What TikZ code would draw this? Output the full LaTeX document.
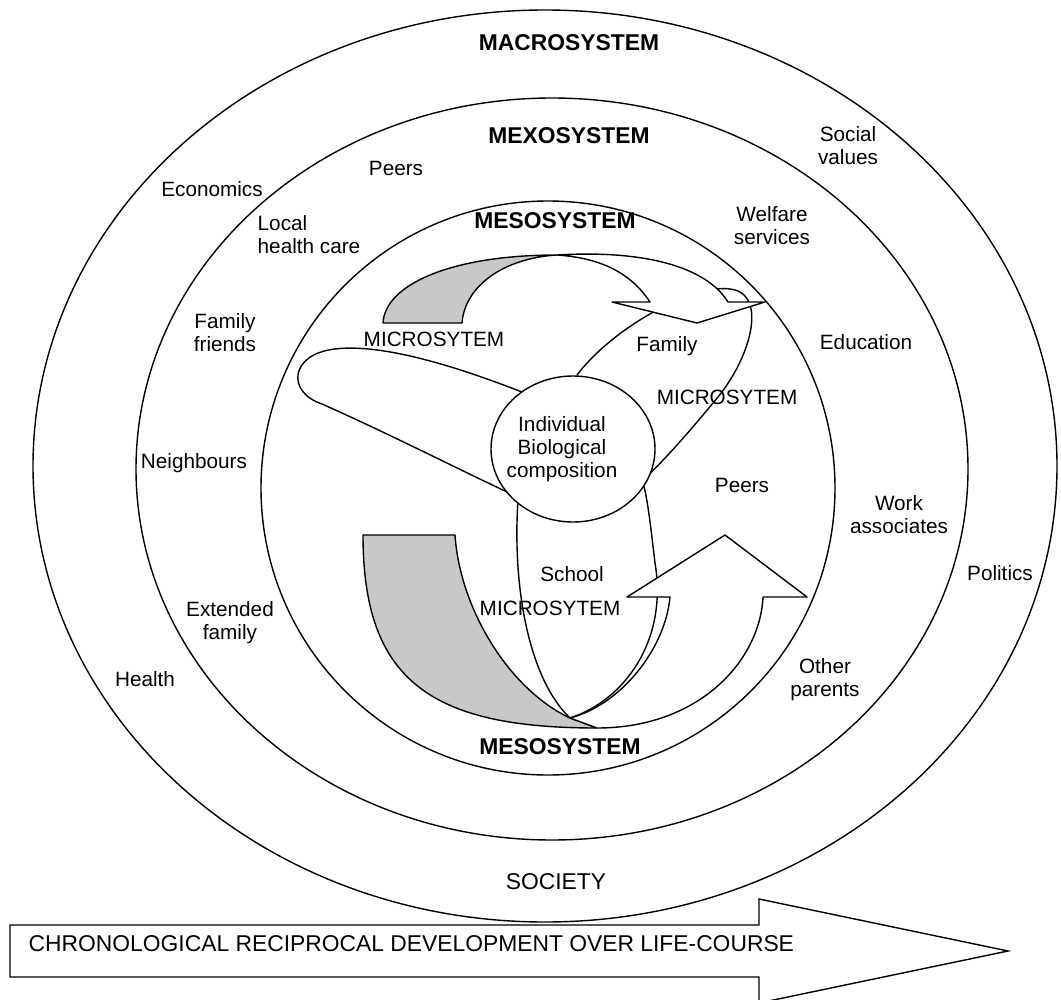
\documentclass[tikz,border=0pt]{standalone}
\usepackage{fontspec}
\setmainfont{Liberation Sans}
\usepackage{xcolor}
\usepackage{tikz}
\usetikzlibrary{calc, positioning}
\definecolor{ribbon}{RGB}{200,200,200}

\begin{document}
\begin{tikzpicture}
      [x=0.02cm, y=-0.02cm, line width=0.8pt,
       lbl/.style={font=\fontsize{11.8}{13.1}\selectfont, align=center, inner sep=0pt},
       sys/.style={font=\bfseries\fontsize{13}{15}\selectfont, inner sep=0pt},
       big/.style={font=\fontsize{13}{15}\selectfont, inner sep=0pt},
       band/.style={draw, fill=ribbon, line join=round},
       turn/.style={draw, fill=white, line join=round}]

      \clip (0,0) rectangle (1061,1000);

      % rings %
      \draw (545,466) ellipse [x radius=512, y radius=456];
      \draw (552,469) ellipse [x radius=416, y radius=371];
      \draw (548,488) ellipse [x radius=287, y radius=287];

      %petals
      \draw (522,392) .. controls (440,360) and (375,344) .. (335,349)
            .. controls (290,354) and (286,392) .. (322,404)
            .. controls (385,432) and (450,465) .. (507,492);
      \draw (577,375) .. controls (615,325) and (700,280) .. (735,290)
            .. controls (765,298) and (752,355) .. (718,397)
            .. controls (695,425) and (665,460) .. (643,480);
      \draw (518,500) .. controls (512,590) and (530,680) .. (570,718)
            .. controls (625,700) and (668,640) .. (655,563)
            .. controls (651,530) and (648,500) .. (643,483);

      %top ribbon
      \path[band] (383,323) .. controls (385,285) and (450,255) .. (557,255)
            .. controls (505,258) and (465,285) .. (462,323) -- cycle;
      \path[turn] (557,255) .. controls (640,250) and (705,265) .. (728,302)
            -- (765,302) -- (697,323) -- (612,302) -- (650,302)
            .. controls (630,272) and (600,258) .. (557,255) -- cycle;

      %bottom ribbon
      \path[band] (363,535) -- (455,535) .. controls (460,610) and (510,690) .. (570,718)
            -- (597,728) .. controls (430,728) and (363,680) .. (363,535) -- cycle;
      \path[turn] (570,718) .. controls (620,705) and (665,650) .. (670,597)
            -- (627,597) -- (725,535) -- (807,597) -- (763,597)
            .. controls (760,660) and (700,728) .. (597,728) -- cycle;

      %centre
      \draw[fill=white] (573,449) ellipse [x radius=82, y radius=73];

      %time arrow
      \draw[fill=white, line join=miter] (10,925) -- (759,925) -- (759,899) -- (1008,951)
            -- (759,1003) -- (759,977) -- (10,977) -- cycle;

      %nodes
      \node[sys] (macro) at (569,43) {MACROSYSTEM};
      \node[sys] (mexo) at (569,136) {MEXOSYSTEM};
      \node[sys] (mesotop) at (555,221) {MESOSYSTEM};
      \node[sys] (mesobot) at (560,747) {MESOSYSTEM};
      \node[big] (society) at (556,882) {SOCIETY};
      \node[big, anchor=west] (chrono) at (28,944) {CHRONOLOGICAL RECIPROCAL DEVELOPMENT OVER LIFE-COURSE};

      \node[lbl] (socval) at (848,146) {Social\\values};
      \node[lbl] (peersout) at (396,168) {Peers};
      \node[lbl] (econ) at (212,189) {Economics};
      \node[lbl, align=left, anchor=west] (healthcare) at (257,235) {Local\\health care};
      \node[lbl] (welfare) at (772,226) {Welfare\\services};
      \node[lbl] (famfriends) at (225,333) {Family\\friends};
      \node[lbl] (microleft) at (434,339) {MICROSYTEM};
      \node[lbl] (family) at (667,346) {Family};
      \node[lbl] (educ) at (866,342) {Education};
      \node[lbl] (microright) at (727,397) {MICROSYTEM};
      \node[lbl] (indiv) at (562,449) {Individual\\Biological\\composition};
      \node[lbl] (neigh) at (194,463) {Neighbours};
      \node[lbl] (peersin) at (742,485) {Peers};
      \node[lbl] (work) at (899,515) {Work\\associates};
      \node[lbl] (politics) at (1000,573) {Politics};
      \node[lbl] (school) at (572,574) {School};
      \node[lbl] (microbot) at (550,608) {MICROSYTEM};
      \node[lbl] (extfamily) at (230,623) {Extended\\family};
      \node[lbl] (health) at (145,679) {Health};
      \node[lbl] (otherpar) at (825,680) {Other\\parents};
\end{tikzpicture}
\end{document}
